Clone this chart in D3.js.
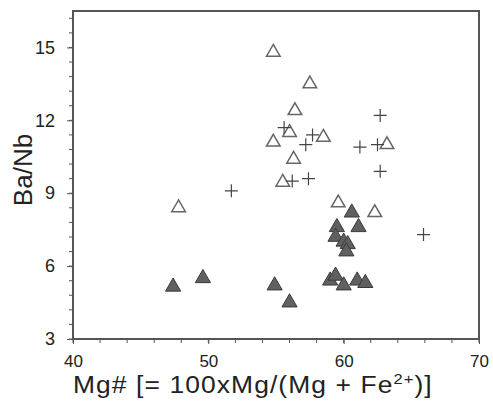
<!DOCTYPE html>
<html>
<head>
<meta charset="utf-8">
<script src="https://cdn.jsdelivr.net/npm/d3@7"></script>
<style>
  body { margin: 0; background: #fff; }
  text { font-family: 'Liberation Sans', Arial, sans-serif; fill: #222; }
</style>
</head>
<body>
<div id="chart"></div>
<script>
// Data: [Mg#, Ba/Nb]
var openTriangles = [
  [47.8, 8.4], [54.8, 14.8], [57.5, 13.5], [56.4, 12.4], [56.0, 11.5],
  [58.5, 11.3], [54.8, 11.1], [56.3, 10.4], [55.5, 9.45], [59.6, 8.6],
  [62.3, 8.2], [63.2, 11.0]
];
var filledTriangles = [
  [47.4, 5.15], [49.6, 5.5], [54.9, 5.2], [56.0, 4.5], [59.0, 5.4],
  [59.4, 5.6], [60.0, 5.2], [61.0, 5.4], [61.6, 5.3], [59.5, 7.6],
  [59.4, 7.2], [60.0, 7.0], [60.3, 6.9], [60.2, 6.6], [60.6, 8.2],
  [61.1, 7.6]
];
var crosses = [
  [51.7, 9.1], [55.6, 11.7], [57.7, 11.4], [57.2, 11.0], [56.2, 9.5],
  [57.4, 9.6], [61.2, 10.9], [62.5, 11.0], [62.7, 12.2], [62.7, 9.9],
  [65.9, 7.3]
];
var xTicks = [40, 50, 60, 70];
var yTicks = [3, 6, 9, 12, 15];

var w = 493;
var h = 405;
var pLeft = 73, pRight = 479, pTop = 11, pBottom = 339;

var svg = d3.select('#chart').append('svg')
  .attr('width', w)
  .attr('height', h);

var x = d3.scaleLinear().domain([40, 70]).range([pLeft, pRight]);
var y = d3.scaleLinear().domain([3, 16.5]).range([pBottom, pTop]);

// Minor ticks
var xMinor = d3.range(40, 70.01, 2);
var yMinor = d3.range(3, 16.5, 0.6);

svg.append('g').selectAll('line')
  .data(xMinor).enter().append('line')
  .attr('x1', function (d) { return x(d); })
  .attr('x2', function (d) { return x(d); })
  .attr('y1', pBottom)
  .attr('y2', pBottom + 4)
  .attr('stroke', '#555')
  .attr('stroke-width', 1);

svg.append('g').selectAll('line')
  .data(yMinor).enter().append('line')
  .attr('x1', pLeft - 4)
  .attr('x2', pLeft)
  .attr('y1', function (d) { return y(d); })
  .attr('y2', function (d) { return y(d); })
  .attr('stroke', '#555')
  .attr('stroke-width', 1);

// Axes
var xAxis = d3.axisBottom(x).tickValues(xTicks).tickSize(5).tickPadding(11);
var gx = svg.append('g')
  .attr('transform', 'translate(0,' + pBottom + ')')
  .call(xAxis);
gx.select('.domain').remove();
gx.selectAll('.tick line').attr('stroke', '#555');
gx.selectAll('text').style('font-size', '17px').attr('fill', '#222');

var yAxis = d3.axisLeft(y).tickValues(yTicks).tickSize(6).tickPadding(12);
var gy = svg.append('g')
  .attr('transform', 'translate(' + pLeft + ',0)')
  .call(yAxis);
gy.select('.domain').remove();
gy.selectAll('.tick line').attr('stroke', '#555');
gy.selectAll('text').style('font-size', '18px').attr('fill', '#222');

// Frame
svg.append('rect')
  .attr('x', pLeft)
  .attr('y', pTop)
  .attr('width', pRight - pLeft)
  .attr('height', pBottom - pTop)
  .attr('fill', 'none')
  .attr('stroke', '#555')
  .attr('stroke-width', 2);

// Open triangles
var triOpen = d3.symbol().type(d3.symbolTriangle).size(80);
svg.append('g').selectAll('path')
  .data(openTriangles).enter().append('path')
  .attr('d', triOpen)
  .attr('transform', function (d) { return 'translate(' + x(d[0]) + ',' + y(d[1]) + ')'; })
  .attr('fill', 'none')
  .attr('stroke', '#666')
  .attr('stroke-width', 1.5);

// Crosses
var cross = 'M-6.5,0H6.5M0,-6.5V6.5';
svg.append('g').selectAll('path')
  .data(crosses).enter().append('path')
  .attr('d', cross)
  .attr('transform', function (d) { return 'translate(' + x(d[0]) + ',' + y(d[1]) + ')'; })
  .attr('fill', 'none')
  .attr('stroke', '#444')
  .attr('stroke-width', 1.2);

// Filled triangles
var triFilled = d3.symbol().type(d3.symbolTriangle).size(100);
svg.append('g').selectAll('path')
  .data(filledTriangles).enter().append('path')
  .attr('d', triFilled)
  .attr('transform', function (d) { return 'translate(' + x(d[0]) + ',' + y(d[1]) + ')'; })
  .attr('fill', '#606060')
  .attr('stroke', '#3a3a3a')
  .attr('stroke-width', 1);

// Axis titles (slightly stretched, like the source figure)
var xt = svg.append('text')
  .attr('transform', 'translate(' + pLeft + ',393) scale(1.1,1)')
  .style('font-size', '24px')
  .style('letter-spacing', '1px');
xt.append('tspan').text('Mg# [= 100xMg/(Mg + Fe');
xt.append('tspan').text('2+').style('font-size', '15px').attr('dy', -9);
xt.append('tspan').text(')]').attr('dy', 9);

svg.append('text')
  .attr('transform', 'translate(32,170) rotate(-90)')
  .attr('text-anchor', 'middle')
  .style('font-size', '26px')
  .text('Ba/Nb');
</script>
</body>
</html>
